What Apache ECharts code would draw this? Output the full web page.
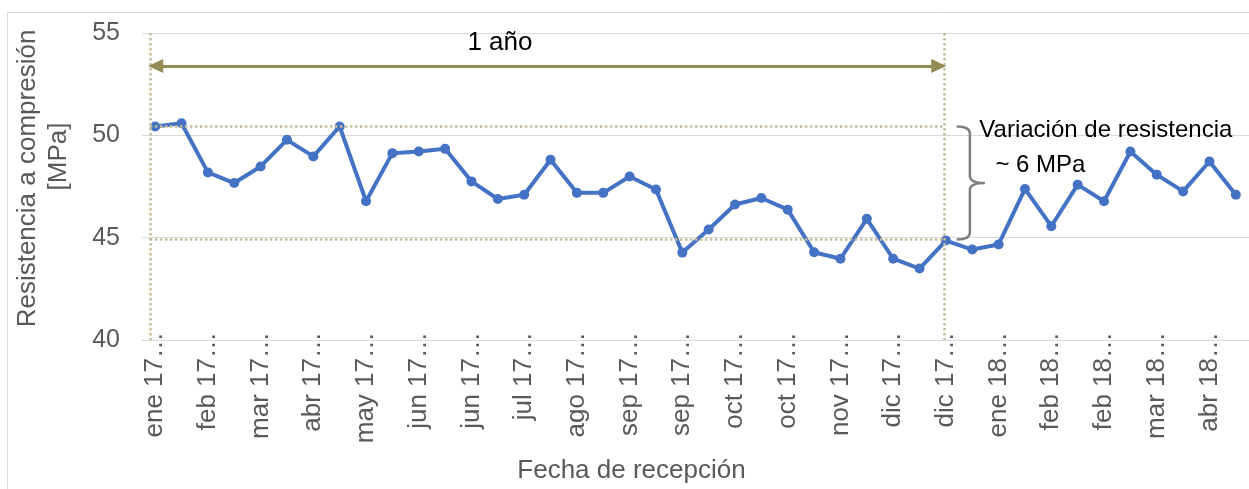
<!DOCTYPE html>
<html>
<head>
<meta charset="utf-8">
<script src="https://cdn.jsdelivr.net/npm/echarts@6/dist/echarts.min.js"></script>
<style>
    html, body { margin: 0; padding: 0; background: #fff; }
    #chart { width: 1249px; height: 489px; }
</style>
</head>
<body>
<div id="chart"></div>
<script>
// fecha de recepción (labels as they appear, truncated)
const categories = [
    'ene 17…', 'ene 17…', 'feb 17…', 'feb 17…', 'mar 17…', 'mar 17…', 'abr 17…', 'abr 17…',
    'may 17…', 'may 17…', 'jun 17…', 'jun 17…', 'jun 17…', 'jul 17…', 'jul 17…', 'jul 17…',
    'ago 17…', 'ago 17…', 'sep 17…', 'sep 17…', 'sep 17…', 'oct 17…', 'oct 17…', 'oct 17…',
    'oct 17…', 'nov 17…', 'nov 17…', 'nov 17…', 'dic 17…', 'dic 17…', 'dic 17…', 'dic 17…',
    'ene 18…', 'ene 18…', 'feb 18…', 'feb 18…', 'feb 18…', 'mar 18…', 'mar 18…', 'mar 18…',
    'abr 18…', 'abr 18…'
];

// resistencia a compresión [MPa]
const resistencia = [
    50.43, 50.59, 48.19, 47.67, 48.48, 49.78, 48.97, 50.43, 46.78, 49.13,
    49.21, 49.34, 47.75, 46.89, 47.10, 48.81, 47.19, 47.19, 47.99, 47.35,
    44.27, 45.40, 46.62, 46.94, 46.37, 44.29, 43.97, 45.92, 43.97, 43.49,
    44.86, 44.42, 44.67, 47.38, 45.56, 47.59, 46.78, 49.21, 48.08, 47.26,
    48.72, 47.10
];

const yTicks = [40, 45, 50, 55];

// annotation anchors (category index units / MPa)
const spanStart = -0.2;
const spanEnd = 29.93;
const arrowFrom = 0.02;
const arrowTo = 29.73;
const arrowLevel = 53.39;
const refTop = 50.43;
const refBottom = 44.91;
const brace = [30.41, 30.91, 31.48, refTop, refBottom];

const fontFamily = "'Liberation Sans', Arial, sans-serif";

const chart = echarts.init(document.getElementById('chart'));

function renderBrace(params, api) {
    const tip = api.coord([api.value(0), api.value(3)]);
    const spineX = api.coord([api.value(1), api.value(3)])[0];
    const pointX = api.coord([api.value(2), api.value(3)])[0];
    const yTop = tip[1];
    const yBot = api.coord([api.value(0), api.value(4)])[1];
    const yMid = (yTop + yBot) / 2;
    const r = 7;
    const d = 'M' + tip[0] + ',' + yTop +
        ' Q' + spineX + ',' + yTop + ' ' + spineX + ',' + (yTop + r) +
        ' L' + spineX + ',' + (yMid - r) +
        ' Q' + spineX + ',' + yMid + ' ' + pointX + ',' + yMid +
        ' Q' + spineX + ',' + yMid + ' ' + spineX + ',' + (yMid + r) +
        ' L' + spineX + ',' + (yBot - r) +
        ' Q' + spineX + ',' + yBot + ' ' + tip[0] + ',' + yBot;
    return {
        type: 'path',
        shape: { pathData: d },
        style: { fill: 'none', stroke: '#7F7F7F', lineWidth: 2.5 }
    };
}

const option = {
    animation: false,
    textStyle: { fontFamily: fontFamily },
    grid: { left: 142, right: 0, top: 33, bottom: 148 },
    graphic: [{
        type: 'rect',
        x: 7.5,
        y: 12.5,
        silent: true,
        z: -1,
        shape: { width: 1300, height: 600 },
        style: { fill: 'none', stroke: '#D9D9D9', lineWidth: 1 }
    }],
    xAxis: [
        {
            type: 'category',
            data: categories,
            axisLine: { lineStyle: { color: '#D9D9D9', width: 1 } },
            axisTick: { show: false },
            axisLabel: {
                interval: 1,
                rotate: 90,
                margin: -8,
                color: '#595959',
                fontSize: 26,
                fontFamily: fontFamily
            },
            name: 'Fecha de recepción',
            nameLocation: 'middle',
            nameGap: 118,
            nameTextStyle: {
                color: '#595959',
                fontSize: 26,
                fontFamily: fontFamily,
                padding: [0, 128, 0, 0]
            }
        },
        { type: 'value', min: -0.5, max: 41.5, show: false }
    ],
    yAxis: {
        type: 'value',
        min: yTicks[0],
        max: yTicks[yTicks.length - 1],
        interval: 5,
        axisLine: { show: false },
        axisTick: { show: false },
        splitLine: { lineStyle: { color: '#D9D9D9', width: 1 } },
        axisLabel: { margin: 22, color: '#595959', fontSize: 25, fontFamily: fontFamily },
        name: '{a|Resistencia a compresión}\n{b|[MPa]}',
        nameLocation: 'middle',
        nameRotate: 90,
        nameGap: 68,
        nameTextStyle: {
            rich: {
                a: { color: '#595959', fontSize: 26, lineHeight: 31, fontFamily: fontFamily, padding: [0, 0, 0, 16] },
                b: { color: '#595959', fontSize: 26, lineHeight: 31, fontFamily: fontFamily, padding: [0, 0, 0, 60] }
            }
        }
    },
    series: [
        {
            name: 'Resistencia',
            type: 'line',
            data: resistencia,
            symbol: 'circle',
            symbolSize: 10,
            itemStyle: { color: '#4472C4' },
            lineStyle: { color: '#4472C4', width: 4 },
            z: 2
        },
        {
            // dotted guide lines
            type: 'line',
            xAxisIndex: 1,
            data: [],
            silent: true,
            markLine: {
                silent: true,
                symbol: 'none',
                label: { show: false },
                lineStyle: { color: '#C4BD97', width: 2.5, type: 'dotted' },
                data: [
                    [{ coord: [spanStart, 55] }, { coord: [spanStart, 40] }],
                    [{ coord: [spanEnd, 55] }, { coord: [spanEnd, 40] }],
                    [{ coord: [spanStart, refTop] }, { coord: [spanEnd, refTop] }],
                    [{ coord: [spanStart, refBottom] }, { coord: [spanEnd, refBottom] }]
                ]
            },
            markPoint: {
                silent: true,
                symbol: 'circle',
                symbolSize: 1,
                itemStyle: { color: 'rgba(0,0,0,0)' },
                label: { formatter: '{b}', color: '#000', fontFamily: fontFamily },
                data: [
                    { name: '1 año', coord: [13.08, 54.5], label: { position: 'inside', fontSize: 26 } },
                    { name: 'Variación de resistencia', coord: [31.25, 50.22], label: { position: 'right', distance: 0, fontSize: 24 } },
                    { name: '~ 6 MPa', coord: [31.86, 48.51], label: { position: 'right', distance: 0, fontSize: 24 } }
                ]
            }
        },
        {
            // 1 año arrow
            type: 'line',
            xAxisIndex: 1,
            data: [],
            silent: true,
            markLine: {
                silent: true,
                symbol: ['triangle', 'triangle'],
                symbolSize: [14, 15],
                label: { show: false },
                lineStyle: { color: '#948A54', width: 3, type: 'solid' },
                itemStyle: { color: '#948A54' },
                data: [
                    [{ coord: [arrowFrom, arrowLevel] }, { coord: [arrowTo, arrowLevel] }]
                ]
            }
        },
        {
            type: 'custom',
            xAxisIndex: 1,
            silent: true,
            z: 5,
            data: [brace],
            renderItem: renderBrace
        }
    ]
};

chart.setOption(option);

window.addEventListener('resize', () => {
    chart.resize();
});
</script>
</body>
</html>
